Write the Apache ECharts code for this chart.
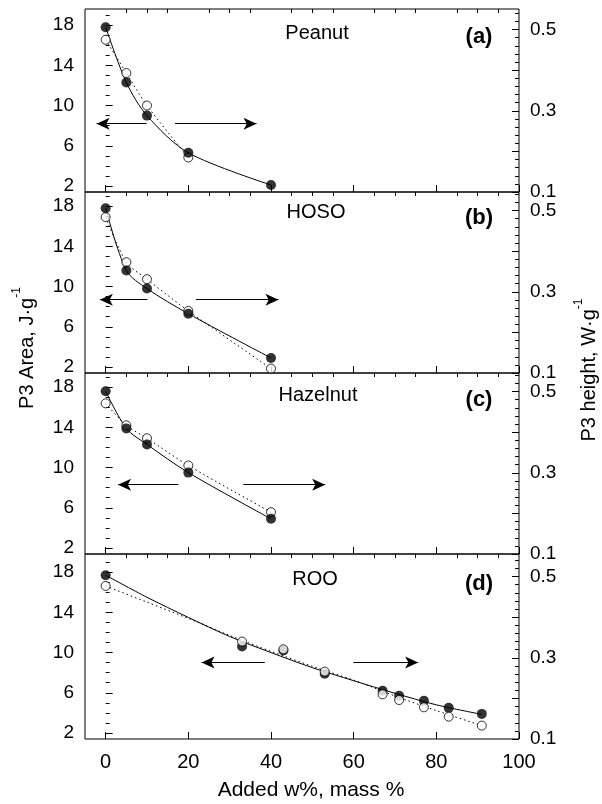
<!DOCTYPE html>
<html>
<head>
<meta charset="utf-8">
<script src="https://cdn.jsdelivr.net/npm/echarts@6/dist/echarts.min.js"></script>
<style>
  html, body { margin: 0; padding: 0; background: #fff; }
  #chart { width: 602px; height: 804px; }
</style>
</head>
<body>
<div id="chart"></div>
<script>
// Peanut oil blend
const peanutAreaX = [0, 5, 10, 20, 40];
const peanutArea = [17.8, 12.3, 9.0, 5.3, 2.1];
const peanutHeightX = [0, 5, 10, 20];
const peanutHeight = [0.475, 0.393, 0.313, 0.185];

// High-oleic sunflower oil blend
const hosoX = [0, 5, 10, 20, 40];
const hosoArea = [17.8, 11.6, 9.8, 7.3, 2.9];
const hosoHeight = [0.484, 0.373, 0.331, 0.253, 0.111];

// Hazelnut oil blend
const hazelX = [0, 5, 10, 20, 40];
const hazelArea = [17.6, 13.9, 12.3, 9.5, 4.9];
const hazelHeight = [0.471, 0.417, 0.385, 0.318, 0.203];

// Refined olive oil blend
const rooX = [0, 33, 43, 53, 67, 71, 77, 83, 91];
const rooArea = [17.7, 10.6, 10.2, 7.9, 6.2, 5.7, 5.2, 4.5, 3.9];
const rooHeight = [0.477, 0.340, 0.321, 0.266, 0.210, 0.196, 0.178, 0.155, 0.133];
// fitted curves for the olive oil blend
const rooFitX = [0, 10, 20, 30, 40, 50, 60, 70, 80, 91];
const rooFitArea = [17.7, 15.5, 13.5, 11.6, 10.0, 8.5, 7.2, 5.95, 4.8, 3.85];
const rooFitHeight = [0.477, 0.437, 0.397, 0.355, 0.316, 0.279, 0.245, 0.206, 0.170, 0.133];

// axis arrows: y level (area units), left arrow [from, to], right arrow [from, to]
const arrowLevel = [8.2, 8.7, 8.3, 9.0];
const arrowLeft = [[9.9, -2.2], [10.1, -1.4], [17.6, 3.0], [38.5, 23.2]];
const arrowRight = [[16.8, 36.5], [21.8, 41.8], [33.3, 53.1], [59.9, 75.6]];

// tick labels
const xTickLabels = [0, 20, 40, 60, 80, 100];
const xMinorTicks = [5, 10, 15, 25, 30, 35, 45, 50, 55, 65, 70, 75, 85, 90, 95];
const areaTickLabels = [2, 6, 10, 14, 18];
const areaMinorTicks = [3, 4, 5, 7, 8, 9, 11, 12, 13, 15, 16, 17, 19];
const heightMajorTicks = [0.1, 0.2, 0.3, 0.4, 0.5];
const heightTickLabels = [0.1, 0.3, 0.5];
const heightMinorTicks = [0.12, 0.14, 0.16, 0.18, 0.22, 0.24, 0.26, 0.28, 0.32, 0.34, 0.36, 0.38, 0.42, 0.44, 0.46, 0.48, 0.52, 0.54];

const zip = (xs, ys) => xs.map((x, i) => [x, ys[i]]);

const FONT = '"Liberation Sans", Arial, Helvetica, sans-serif';
const X_MIN = -5, X_MAX = 100;
const AREA_MIN = 1.4, HEIGHT_MIN = 0.1;
const PX_PER_AREA = 10.05, PX_PER_HEIGHT = 406;

const panels = [
  { name: 'Peanut', tag: '(a)', top: 9, h: 183, nameX: 317, nameY: 33, tagY: 37,
    areaPts: zip(peanutAreaX, peanutArea), heightPts: zip(peanutHeightX, peanutHeight),
    areaCurve: zip(peanutAreaX, peanutArea), heightCurve: zip(peanutHeightX, peanutHeight), openOnTop: false },
  { name: 'HOSO', tag: '(b)', top: 192, h: 181, nameX: 316, nameY: 212, tagY: 218,
    areaPts: zip(hosoX, hosoArea), heightPts: zip(hosoX, hosoHeight),
    areaCurve: zip(hosoX, hosoArea), heightCurve: zip(hosoX, hosoHeight), openOnTop: false },
  { name: 'Hazelnut', tag: '(c)', top: 373, h: 181, nameX: 318, nameY: 395, tagY: 400,
    areaPts: zip(hazelX, hazelArea), heightPts: zip(hazelX, hazelHeight),
    areaCurve: zip(hazelX, hazelArea), heightCurve: zip(hazelX, hazelHeight), openOnTop: false },
  { name: 'ROO', tag: '(d)', top: 554, h: 185, nameX: 315, nameY: 579, tagY: 584,
    areaPts: zip(rooX, rooArea), heightPts: zip(rooX, rooHeight),
    areaCurve: zip(rooFitX, rooFitArea), heightCurve: zip(rooFitX, rooFitHeight), openOnTop: true }
];

const option = {
  animation: false,
  backgroundColor: '#fff',
  textStyle: { fontFamily: FONT, color: '#000' },
  grid: [], xAxis: [], yAxis: [], series: [], graphic: []
};

function tickAxis(base, values, len, labels, labelOpts) {
  return Object.assign({
    type: 'value',
    axisLine: { show: false },
    splitLine: { show: false },
    axisTick: { show: true, inside: true, length: len, customValues: values, lineStyle: { color: '#000', width: 1 } },
    axisLabel: labels ? Object.assign({ show: true, customValues: labels, color: '#000', fontFamily: FONT }, labelOpts) : { show: false }
  }, base);
}

panels.forEach((p, i) => {
  const areaMax = AREA_MIN + p.h / PX_PER_AREA;
  const heightMax = HEIGHT_MIN + p.h / PX_PER_HEIGHT;
  option.grid.push({ left: 85, width: 434, top: p.top, height: p.h, show: true, borderColor: '#000', borderWidth: 1 });

  const xb = { gridIndex: i, min: X_MIN, max: X_MAX };
  option.xAxis.push(tickAxis(xb, xTickLabels, 7, i === 3 ? xTickLabels : null, { fontSize: 20, margin: 13 }));
  option.xAxis.push(tickAxis(Object.assign({}, xb), xMinorTicks, 4, null));

  const lb = { gridIndex: i, position: 'left', min: AREA_MIN, max: areaMax };
  option.yAxis.push(tickAxis(lb, areaTickLabels, 7, areaTickLabels, { fontSize: 19, margin: 11 }));
  option.yAxis.push(tickAxis(Object.assign({}, lb), areaMinorTicks, 4, null));
  const rb = { gridIndex: i, position: 'right', min: HEIGHT_MIN, max: heightMax };
  option.yAxis.push(tickAxis(rb, heightMajorTicks, 7, heightTickLabels,
    { fontSize: 19, margin: 11, formatter: v => v.toFixed(1) }));
  option.yAxis.push(tickAxis(Object.assign({}, rb), heightMinorTicks, 4, null));

  const xi = 2 * i, yl = 4 * i, yr = 4 * i + 2;
  const y = arrowLevel[i];

  // solid fitted curve, area axis, carries the axis arrows
  option.series.push({
    type: 'line', xAxisIndex: xi, yAxisIndex: yl, data: p.areaCurve,
    smooth: 0.3, symbol: 'none', z: 2,
    lineStyle: { color: '#000', width: 1 },
    markLine: {
      silent: true, symbol: ['none', 'arrow'], symbolSize: [9, 13],
      label: { show: false },
      lineStyle: { color: '#000', width: 1, type: 'solid' },
      itemStyle: { color: '#000' },
      data: [
        [{ coord: [arrowLeft[i][0], y] }, { coord: [arrowLeft[i][1], y] }],
        [{ coord: [arrowRight[i][0], y] }, { coord: [arrowRight[i][1], y] }]
      ]
    }
  });
  // dotted fitted curve, height axis
  option.series.push({
    type: 'line', xAxisIndex: xi, yAxisIndex: yr, data: p.heightCurve,
    smooth: 0.3, symbol: 'none', z: 2,
    lineStyle: { color: '#000', width: 1, type: [1.5, 3] }
  });
  // filled markers: P3 area
  option.series.push({
    type: 'scatter', xAxisIndex: xi, yAxisIndex: yl, data: p.areaPts,
    symbol: 'circle', symbolSize: 10, z: p.openOnTop ? 3 : 5,
    itemStyle: { color: '#000' }
  });
  // open markers: P3 height
  option.series.push({
    type: 'scatter', xAxisIndex: xi, yAxisIndex: yr, data: p.heightPts,
    symbol: 'circle', symbolSize: 9, z: p.openOnTop ? 5 : 3,
    itemStyle: { color: '#fff', borderColor: '#000', borderWidth: 1 }
  });

  option.graphic.push({
    type: 'text', x: p.nameX, y: p.nameY, z: 10,
    style: { text: p.name, fill: '#000', font: '20px ' + FONT, align: 'center', verticalAlign: 'middle' }
  });
  option.graphic.push({
    type: 'text', x: 479, y: p.tagY, z: 10,
    style: { text: p.tag, fill: '#000', font: 'bold 22px ' + FONT, align: 'center', verticalAlign: 'middle' }
  });
});

// axis titles
option.graphic.push({
  type: 'text', x: 311, y: 790,
  style: { text: 'Added w%, mass %', fill: '#000', font: '21px ' + FONT, align: 'center', verticalAlign: 'middle' }
});
const titleRich = {
  m: { fontSize: 20, fontFamily: FONT, fill: '#000', lineHeight: 26, verticalAlign: 'bottom' },
  s: { fontSize: 12, fontFamily: FONT, fill: '#000', lineHeight: 26, verticalAlign: 'top' }
};
option.graphic.push({
  type: 'text', x: 24, y: 348, rotation: Math.PI / 2,
  style: { text: '{m|P3 Area, J·g}{s|-1}', rich: titleRich, align: 'center', verticalAlign: 'middle' }
});
option.graphic.push({
  type: 'text', x: 586, y: 370, rotation: Math.PI / 2,
  style: { text: '{m|P3 height, W·g}{s|-1}', rich: titleRich, align: 'center', verticalAlign: 'middle' }
});

const chart = echarts.init(document.getElementById('chart'), null, { renderer: 'canvas' });
chart.setOption(option);
</script>
</body>
</html>
